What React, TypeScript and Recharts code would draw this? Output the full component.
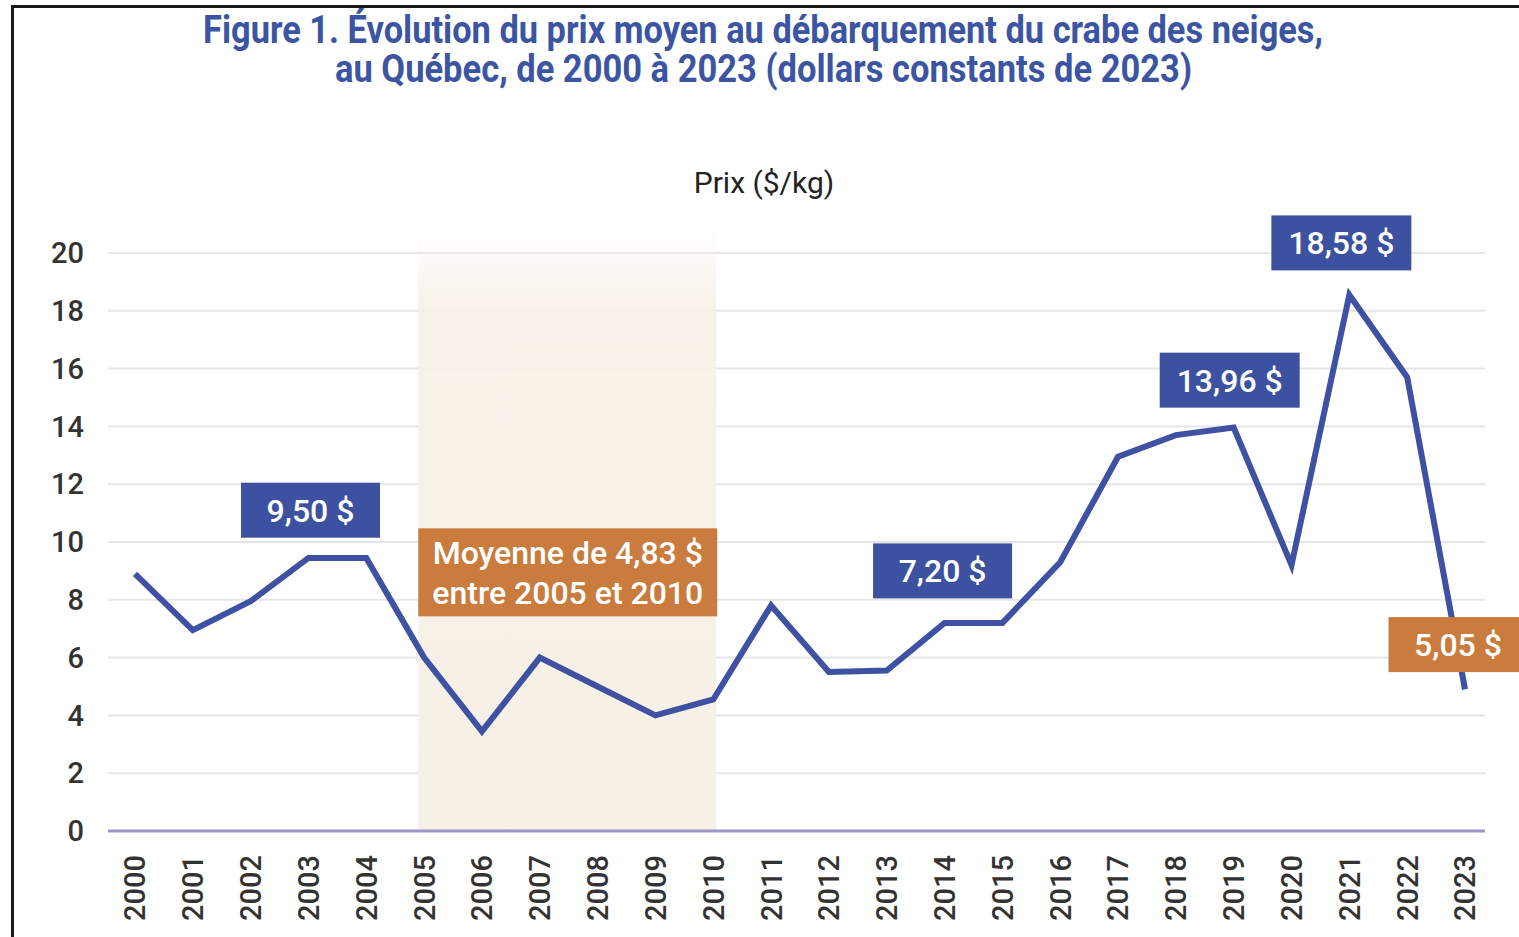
import React from "react";
import {
  LineChart,
  Line,
  XAxis,
  YAxis,
  CartesianGrid,
  ReferenceArea,
  ReferenceDot,
} from "recharts";

const years = [
  "2000", "2001", "2002", "2003", "2004", "2005", "2006", "2007", "2008", "2009", "2010", "2011",
  "2012", "2013", "2014", "2015", "2016", "2017", "2018", "2019", "2020", "2021", "2022", "2023",
];
const prices = [
  8.9, 6.95, 7.95, 9.45, 9.45, 6.0, 3.45, 6.0, 5.0, 4.0, 4.55, 7.8,
  5.5, 5.55, 7.2, 7.2, 9.3, 12.95, 13.7, 13.96, 9.2, 18.55, 15.7, 4.9,
];
const yTicks = [0, 2, 4, 6, 8, 10, 12, 14, 16, 18, 20];

// annotation boxes: anchor year, value at box centre, horizontal nudge, text, colour
const callouts = [
  { year: "2003", value: 11.1, dx: 2, lines: ["9,50 $"], kind: "blue" },
  { year: "2014", value: 9.0, dx: -2, lines: ["7,20 $"], kind: "blue" },
  { year: "2019", value: 15.6, dx: -4, lines: ["13,96 $"], kind: "blue" },
  { year: "2021", value: 20.35, dx: -8, lines: ["18,58 $"], kind: "blue" },
  { year: "2023", value: 6.45, dx: -7, lines: ["5,05 $"], kind: "orange" },
  { year: "2007", value: 8.95, dx: 28, lines: ["Moyenne de 4,83 $", "entre 2005 et 2010"], kind: "orange" },
];

const data = years.map((y, i) => ({ year: y, price: prices[i] }));

const BLUE = "#3c52a0";
const ORANGE = "#c97c3e";
const FONT = "Roboto, 'Noto Sans', sans-serif";

function YearTick(props: any) {
  const { x, y, payload } = props;
  return (
    <text
      transform={`translate(${x},${y + 16}) rotate(-90)`}
      textAnchor="end"
      dy="0.36em"
      fontFamily={FONT}
      fontWeight={500}
      fontSize={29}
      fill="#333"
    >
      {payload.value}
    </text>
  );
}

function calloutShape(c: (typeof callouts)[number]) {
  return (props: any) => {
    const { cx, cy } = props;
    const multi = c.lines.length > 1;
    const w = multi ? 299 : c.lines[0].length > 6 ? 140 : 139;
    const h = multi ? 88 : 55;
    const x0 = cx + c.dx - w / 2;
    const y0 = cy - h / 2;
    return (
      <g>
        <rect x={x0} y={y0} width={w} height={h} fill={c.kind === "blue" ? BLUE : ORANGE} />
        {c.lines.map((t, i) => (
          <text
            key={i}
            x={cx + c.dx}
            y={multi ? y0 + 24 + i * 40 : cy}
            dy="0.36em"
            textAnchor="middle"
            fontFamily={FONT}
            fontWeight={500}
            fontSize={32}
            fill="#fff"
          >
            {t}
          </text>
        ))}
      </g>
    );
  };
}

function ShadeShape(props: any) {
  const { x, y, width, height } = props;
  return <rect x={x - 6} y={y - 22} width={width + 9} height={height + 22} fill="url(#shade)" />;
}

export default function App() {
  return (
    <div style={{ position: "fixed", left: 0, top: 0, width: 1519, height: 937, background: "#fff", overflow: "hidden" }}>
      <div
        style={{
          position: "absolute",
          left: 11,
          top: 5,
          width: 1520,
          height: 940,
          borderTop: "3px solid #1a1a1a",
          borderLeft: "3px solid #1a1a1a",
        }}
      />
      <svg style={{ position: "absolute", left: 0, top: 0 }} width={1519} height={200}>
        <text
          x={203}
          y={43}
          textLength={1120}
          lengthAdjust="spacingAndGlyphs"
          fontFamily={FONT}
          fontWeight={700}
          fontSize={39}
          fill="#3c55a3"
        >
          Figure 1. Évolution du prix moyen au débarquement du crabe des neiges,
        </text>
        <text
          x={335}
          y={82}
          textLength={857}
          lengthAdjust="spacingAndGlyphs"
          fontFamily={FONT}
          fontWeight={700}
          fontSize={39}
          fill="#3c55a3"
        >
          au Québec, de 2000 à 2023 (dollars constants de 2023)
        </text>
        <text x={764} y={193} textAnchor="middle" fontFamily={FONT} fontSize={30} fill="#222">
          Prix ($/kg)
        </text>
      </svg>
      <div style={{ position: "absolute", left: 0, top: 0 }}>
        <LineChart width={1519} height={937} data={data} margin={{ top: 253, right: 34, bottom: 0, left: 0 }}>
          <defs>
            <linearGradient id="shade" x1="0" y1="0" x2="0" y2="1">
              <stop offset="0%" stopColor="#f7f0e7" stopOpacity={0} />
              <stop offset="12%" stopColor="#f7f0e7" stopOpacity={0.9} />
              <stop offset="100%" stopColor="#f7f0e7" stopOpacity={1} />
            </linearGradient>
          </defs>
          <ReferenceArea x1="2005" x2="2010" y1={0} y2={20} shape={ShadeShape} ifOverflow="visible" />
          <CartesianGrid vertical={false} stroke="#e6e6e6" strokeWidth={2} />
          <XAxis
            dataKey="year"
            height={106}
            interval={0}
            padding={{ left: 27, right: 20 }}
            tickLine={false}
            axisLine={{ stroke: "#9b96c9", strokeWidth: 3 }}
            tick={<YearTick />}
          />
          <YAxis
            domain={[0, 20]}
            ticks={yTicks}
            width={108}
            tickLine={false}
            axisLine={false}
            tickSize={0}
            tickMargin={24}
            tick={{ fontFamily: FONT, fontSize: 29, fill: "#333", fontWeight: 500 }}
          />
          <Line
            type="linear"
            dataKey="price"
            stroke="#3f51a3"
            strokeWidth={6}
            dot={false}
            activeDot={false}
            isAnimationActive={false}
          />
          {callouts.map((c) => (
            <ReferenceDot
              key={c.lines[0]}
              x={c.year}
              y={c.value}
              r={1}
              ifOverflow="visible"
              shape={calloutShape(c)}
            />
          ))}
        </LineChart>
      </div>
    </div>
  );
}
